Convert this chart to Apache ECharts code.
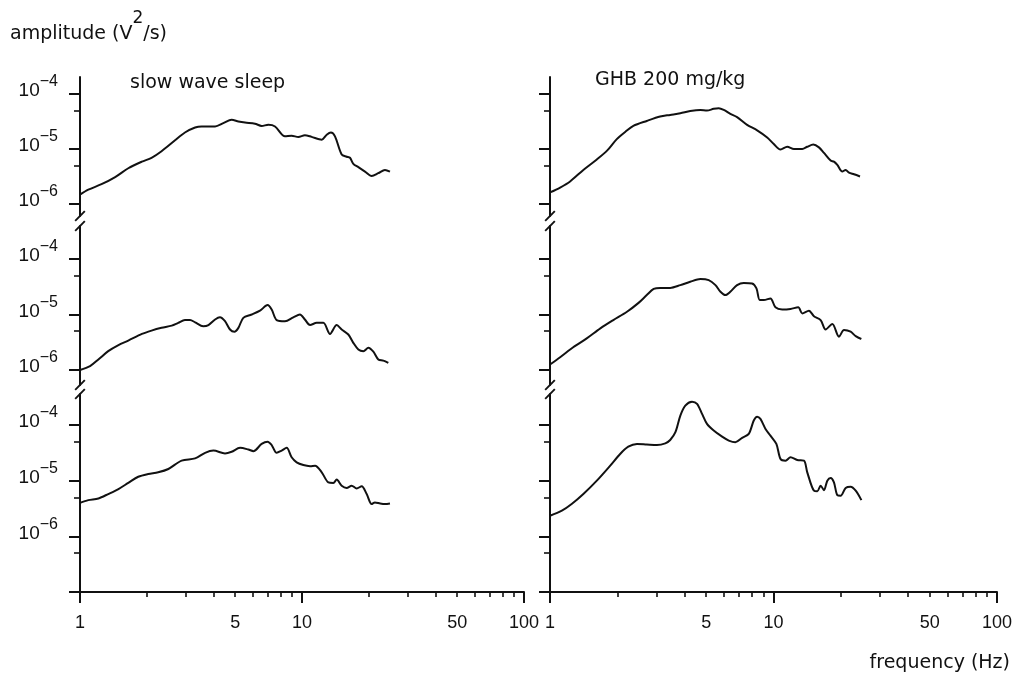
<!DOCTYPE html>
<html><head><meta charset="utf-8">
<script src="https://cdn.jsdelivr.net/npm/echarts@6/dist/echarts.min.js"></script>
<style>html,body{margin:0;padding:0;background:#fff}#c{width:1017px;height:676px}</style>
</head><body><div id="c"></div>
<script>
// ---- data: frequency (Hz) and log10 amplitude (V^2/s) ----
const swsTopFreq = [1, 1.09, 1.25, 1.44, 1.65, 1.9, 2.1, 2.33, 2.68, 2.97, 3.3, 3.53, 4.06, 4.42, 4.82, 5.17, 5.54, 6.14, 6.58, 7.05, 7.56, 8.38, 8.98, 9.63, 10.3, 11.05, 12.27, 12.92, 13.5, 14.08, 15.09, 15.89, 16.45, 17.03, 17.94, 19.22, 20.6, 22.07, 23.65, 24.9];
const swsTopLog  = [-5.83, -5.74, -5.64, -5.51, -5.35, -5.23, -5.16, -5.04, -4.84, -4.70, -4.61, -4.59, -4.59, -4.53, -4.47, -4.50, -4.52, -4.54, -4.58, -4.56, -4.59, -4.77, -4.76, -4.78, -4.75, -4.78, -4.83, -4.74, -4.70, -4.77, -5.10, -5.14, -5.16, -5.27, -5.33, -5.41, -5.49, -5.44, -5.38, -5.41];

const swsMidFreq = [1, 1.11, 1.21, 1.34, 1.49, 1.65, 1.9, 2.1, 2.33, 2.59, 2.77, 2.97, 3.13, 3.3, 3.59, 3.79, 4.06, 4.27, 4.5, 4.74, 4.96, 5.17, 5.44, 5.93, 6.47, 7.0, 7.3, 7.69, 8.38, 9.14, 9.79, 10.3, 10.87, 11.65, 12.48, 13.37, 14.33, 15.09, 16.17, 17.03, 17.94, 18.9, 19.9, 20.96, 22.07, 23.25, 24.48];
const swsMidLog  = [-6.00, -5.93, -5.81, -5.66, -5.55, -5.47, -5.35, -5.29, -5.24, -5.20, -5.15, -5.10, -5.10, -5.14, -5.21, -5.19, -5.09, -5.05, -5.12, -5.27, -5.31, -5.24, -5.06, -5.00, -4.93, -4.83, -4.91, -5.10, -5.12, -5.05, -5.00, -5.09, -5.19, -5.15, -5.15, -5.35, -5.19, -5.27, -5.36, -5.51, -5.63, -5.66, -5.60, -5.67, -5.81, -5.83, -5.87];

const swsBotFreq = [1, 1.09, 1.21, 1.34, 1.49, 1.65, 1.83, 2.03, 2.25, 2.5, 2.87, 3.3, 3.66, 3.99, 4.5, 4.82, 5.26, 5.73, 6.04, 6.58, 7.0, 7.3, 7.69, 8.1, 8.53, 8.98, 9.46, 10.14, 10.87, 11.45, 12.27, 13.14, 13.84, 14.33, 15.09, 15.89, 16.74, 17.63, 18.57, 19.56, 20.6, 21.3, 22.5, 23.65, 24.9];
const swsBotLog  = [-5.40, -5.35, -5.32, -5.24, -5.15, -5.04, -4.93, -4.88, -4.85, -4.79, -4.64, -4.60, -4.50, -4.46, -4.51, -4.48, -4.41, -4.44, -4.47, -4.34, -4.30, -4.36, -4.50, -4.46, -4.41, -4.58, -4.67, -4.72, -4.74, -4.73, -4.85, -5.03, -5.04, -4.98, -5.09, -5.13, -5.09, -5.14, -5.10, -5.24, -5.42, -5.39, -5.41, -5.42, -5.41];

const ghbTopFreq = [1, 1.11, 1.23, 1.41, 1.62, 1.8, 1.99, 2.17, 2.36, 2.71, 3.11, 3.45, 3.83, 4.24, 4.71, 5.04, 5.4, 5.69, 5.99, 6.41, 6.87, 7.62, 8.45, 9.37, 10.03, 10.75, 11.52, 12.34, 13.45, 14.16, 15.07, 15.97, 16.82, 18.02, 18.64, 19.3, 20.32, 21.03, 21.77, 22.92, 24.38];
const ghbTopLog  = [-5.79, -5.70, -5.59, -5.38, -5.19, -5.03, -4.82, -4.69, -4.58, -4.49, -4.41, -4.38, -4.35, -4.31, -4.29, -4.30, -4.27, -4.26, -4.29, -4.36, -4.42, -4.56, -4.66, -4.79, -4.91, -5.01, -4.96, -5.00, -5.00, -4.96, -4.92, -4.97, -5.07, -5.21, -5.23, -5.29, -5.41, -5.38, -5.43, -5.46, -5.50];

const ghbMidFreq = [1, 1.11, 1.27, 1.46, 1.68, 1.92, 2.21, 2.49, 2.71, 2.91, 3.11, 3.45, 3.83, 4.24, 4.71, 5.13, 5.5, 5.79, 6.09, 6.41, 6.87, 7.36, 8.02, 8.39, 8.68, 9.05, 9.69, 10.2, 10.94, 11.92, 12.9, 13.45, 14.4, 15.17, 16.25, 17.11, 18.33, 19.63, 20.68, 22.14, 23.32, 24.73];
const ghbMidLog  = [-5.90, -5.77, -5.59, -5.43, -5.25, -5.10, -4.95, -4.79, -4.65, -4.54, -4.52, -4.52, -4.47, -4.41, -4.36, -4.38, -4.47, -4.59, -4.65, -4.59, -4.47, -4.43, -4.44, -4.53, -4.74, -4.74, -4.71, -4.87, -4.91, -4.90, -4.87, -4.98, -4.93, -5.03, -5.10, -5.27, -5.17, -5.40, -5.28, -5.31, -5.39, -5.44];

const ghbBotFreq = [1, 1.13, 1.25, 1.41, 1.62, 1.86, 2.06, 2.24, 2.45, 2.71, 3.01, 3.28, 3.45, 3.64, 3.83, 4.03, 4.32, 4.55, 4.79, 5.04, 5.4, 5.89, 6.31, 6.75, 7.24, 7.75, 8.16, 8.45, 8.74, 9.21, 9.69, 10.3, 10.75, 11.32, 11.92, 12.77, 13.68, 14.16, 15.17, 15.7, 16.25, 16.82, 17.41, 18.02, 18.64, 19.3, 19.97, 21.03, 22.14, 23.32, 24.73];
const ghbBotLog  = [-5.63, -5.54, -5.42, -5.24, -5.00, -4.73, -4.52, -4.39, -4.34, -4.35, -4.36, -4.33, -4.27, -4.13, -3.83, -3.65, -3.58, -3.62, -3.80, -3.98, -4.10, -4.21, -4.28, -4.31, -4.23, -4.16, -3.92, -3.85, -3.89, -4.07, -4.19, -4.34, -4.61, -4.64, -4.58, -4.63, -4.64, -4.85, -5.18, -5.19, -5.09, -5.17, -5.00, -4.95, -5.03, -5.26, -5.27, -5.13, -5.11, -5.18, -5.35];

// ---- axes ----
const xMajorTicks = [1, 10, 100];
const xMinorTicks = [2, 3, 4, 5, 6, 7, 8, 9, 20, 30, 40, 50, 60, 70, 80, 90];
const xTickLabels = [1, 5, 10, 50, 100];
const yLabelValues = [1e-6, 1e-5, 1e-4];
// axis extent per row (log10 of min / max)
const rowMinExp = [-6.218, -6.270, -7];
const rowMaxExp = [-3.691, -3.405, -3.443];
const rowMajorTicks = [[1e-6, 1e-5, 1e-4], [1e-6, 1e-5, 1e-4], [1e-7, 1e-6, 1e-5, 1e-4]];
const rowMinorTicks = [[5e-6, 5e-5], [5e-6, 5e-5], [5e-7, 5e-6, 5e-5]];
const panelTitles = ['slow wave sleep', 'GHB 200 mg/kg'];

const curves = [
  [swsTopFreq, swsTopLog], [swsMidFreq, swsMidLog], [swsBotFreq, swsBotLog],
  [ghbTopFreq, ghbTopLog], [ghbMidFreq, ghbMidLog], [ghbBotFreq, ghbBotLog]
];

const INK = '#111';
const colLeft = [80, 550], colWidth = [444, 447];
const rowTop = [77, 226, 394], rowHeight = [139, 159, 198];
const SLASH = 'path://M0,10 L10,0 L11.4,1.4 L1.4,11.4 Z';
const breakSym = [[SLASH, 'none'], [SLASH, SLASH], ['none', SLASH]];

const grids = [], xAxes = [], yAxes = [], series = [];
for (let c = 0; c < 2; c++) {
  for (let r = 0; r < 3; r++) {
    const i = c * 3 + r;
    grids.push({ left: colLeft[c], width: colWidth[c], top: rowTop[r], height: rowHeight[r], containLabel: false, outerBoundsMode: 'none' });
    const isBottom = r === 2;
    xAxes.push({
      type: 'log', logBase: 10, min: 1, max: 100, gridIndex: i, position: 'bottom', show: isBottom,
      axisLine: { show: true, onZero: false, lineStyle: { color: INK, width: 2 } },
      axisTick: { show: true, customValues: xMajorTicks, length: 11, lineStyle: { color: INK, width: 2 } },
      axisLabel: { show: true, customValues: xTickLabels, margin: 22, color: INK, fontFamily: 'Liberation Sans', fontSize: 18, formatter: v => String(v) },
      splitLine: { show: false }
    });
    yAxes.push({
      type: 'log', logBase: 10, gridIndex: i, position: 'left',
      min: Math.pow(10, rowMinExp[r]), max: Math.pow(10, rowMaxExp[r]),
      axisLine: { show: true, lineStyle: { color: INK, width: 2 }, symbol: breakSym[r], symbolSize: [11, 11] },
      axisTick: { show: true, customValues: rowMajorTicks[r], length: 11, lineStyle: { color: INK, width: 2 } },
      axisLabel: {
        show: c === 0, customValues: yLabelValues, margin: 22, color: INK, padding: [0, 0, 6, 0],
        formatter: v => '{b|10}{s|\u2212' + (-Math.round(Math.log10(v))) + '}',
        rich: {
          b: { fontFamily: 'Liberation Sans', fontSize: 19, lineHeight: 34, color: INK },
          s: { fontFamily: 'Liberation Sans', fontSize: 16, lineHeight: 16, verticalAlign: 'top', color: INK }
        }
      },
      splitLine: { show: false }
    });
    series.push({
      type: 'line', xAxisIndex: i, yAxisIndex: i, showSymbol: false, smooth: 0.3, animation: false,
      lineStyle: { color: INK, width: 2 },
      data: curves[i][0].map((f, k) => [f, Math.pow(10, curves[i][1][k])])
    });
  }
}
// secondary axes for the short ticks
for (let c = 0; c < 2; c++) {
  const gi = c * 3 + 2;
  xAxes.push({
    type: 'log', logBase: 10, min: 1, max: 100, gridIndex: gi, position: 'bottom',
    axisLine: { show: false, onZero: false },
    axisTick: { show: true, customValues: xMinorTicks, length: 5, lineStyle: { color: INK, width: 1.6 } },
    axisLabel: { show: false }, splitLine: { show: false }
  });
  for (let r = 0; r < 3; r++) {
    yAxes.push({
      type: 'log', logBase: 10, gridIndex: c * 3 + r, position: 'left',
      min: Math.pow(10, rowMinExp[r]), max: Math.pow(10, rowMaxExp[r]),
      axisLine: { show: false },
      axisTick: { show: true, customValues: rowMinorTicks[r], length: 6, lineStyle: { color: INK, width: 1.6 } },
      axisLabel: { show: false }, splitLine: { show: false }
    });
  }
}

const txt = { fontFamily: 'DejaVu Sans', fontSize: 19, lineHeight: 19, fontWeight: 'normal', color: INK };
const option = {
  backgroundColor: '#fff',
  animation: false,
  title: [
    { text: panelTitles[0], left: 130, top: 74, padding: 0, textStyle: txt },
    { text: panelTitles[1], left: 595, top: 71, padding: 0, textStyle: txt },
    { text: 'frequency (Hz)', right: 7, top: 654, padding: 0, textStyle: txt },
    { text: '{a|amplitude (V}{s|2}{a|/s)}', left: 10, top: 10, padding: 0,
      textStyle: { fontWeight: 'normal', fontFamily: 'DejaVu Sans', color: INK, rich: {
        a: { fontFamily: 'DejaVu Sans', fontSize: 19, lineHeight: 48, fontWeight: 'normal', color: INK },
        s: { fontFamily: 'DejaVu Sans', fontSize: 17, lineHeight: 17, verticalAlign: 'top', fontWeight: 'normal', color: INK }
      } } }
  ],
  grid: grids, xAxis: xAxes, yAxis: yAxes, series: series
};
const chart = echarts.init(document.getElementById('c'), null, { renderer: 'canvas' });
chart.setOption(option);
</script></body></html>
